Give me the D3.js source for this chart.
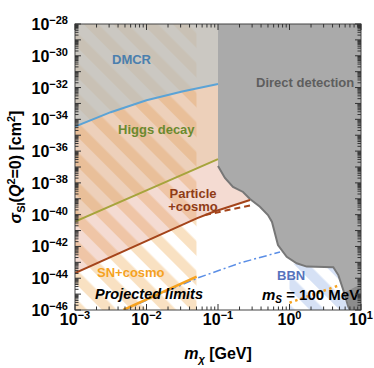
<!DOCTYPE html>
<html>
<head>
<meta charset="utf-8">
<script src="https://cdn.jsdelivr.net/npm/d3@7"></script>
<style>
  body { margin: 0; background: #fff; }
  text { font-family: "Liberation Sans", Arial, sans-serif; font-weight: bold; }
</style>
</head>
<body>
<div id="chart"></div>
<script>
var width = 374, height = 368;
var margin = {left: 75, top: 24, right: 13, bottom: 58};

// limits, [m_chi (GeV), sigma_SI (cm^2)]
var dmcr = [[1e-3, 3.47e-35], [3.16e-3, 2.82e-34], [1e-2, 1.58e-33], [3.16e-2, 5.62e-33], [1e-1, 1.66e-32]];
var higgs = [[1e-3, 3.63e-41], [1e-2, 3.39e-39], [1e-1, 3.16e-37]];
var particle = [[1e-3, 2.14e-44], [5.03e-2, 5.89e-41], [8.5e-2, 1.48e-40], [0.28, 8.32e-40]];
var particleDashed = [[6.58e-2, 9.55e-41], [0.28, 3.8e-40]];
var snCosmo = [[4.74e-3, 1e-46], [5.03e-2, 1.26e-44]];
var projected = [[5.0e-3, 1e-46], [1.55e-2, 1.02e-45], [5.25e-2, 1.05e-44], [0.203, 9.12e-44], [0.736, 4.47e-43]];
var bbnDotted = [[1.0, 2.88e-46], [5.08, 3.72e-45]];
var direct = [[0.1, 1e-28], [0.1, 1.15e-37], [0.125, 2.04e-38], [0.162, 5.5e-39], [0.224, 2.69e-39],
  [0.28, 9.77e-40], [0.386, 3.16e-40], [0.5, 9.55e-41], [0.569, 3.47e-41], [0.69, 1.23e-42],
  [0.914, 2.24e-43], [1.26, 8.7e-44], [1.74, 5.37e-44], [4.1, 4.9e-44], [4.82, 1.58e-44],
  [5.65, 1.82e-45], [6.64, 1.62e-46], [7.0, 1e-46], [10, 1e-46], [10, 1e-28]];
var directDark = [[6.07, 1.35e-45], [10, 4.37e-45], [10, 1e-46], [7.0, 1e-46]];
var snHatch = [[1e-3, 1e-46], [0.05, 1e-46], [0.05, 1e-28], [1e-3, 1e-28]];
var bbnHatch = [[1, 1e-46], [1, 8e-44], [10, 8e-44], [10, 1e-46]];

var xTickExp = [-3, -2, -1, 0, 1];
var yTickExp = [-46, -44, -42, -40, -38, -36, -34, -32, -30, -28];

var svg = d3.select("#chart").append("svg")
  .attr("width", width).attr("height", height);

var x = d3.scaleLog().domain([1e-3, 10]).range([margin.left, width - margin.right]);
var y = d3.scaleLog().domain([1e-46, 1e-28]).range([height - margin.bottom, margin.top]);

var defs = svg.append("defs");
defs.append("clipPath").attr("id", "clip").append("rect")
  .attr("x", x.range()[0]).attr("y", y.range()[1])
  .attr("width", x.range()[1] - x.range()[0]).attr("height", y.range()[0] - y.range()[1]);

function stripes(id, color) {
  var p = defs.append("pattern").attr("id", id)
    .attr("patternUnits", "userSpaceOnUse")
    .attr("width", 21).attr("height", 21)
    .attr("patternTransform", "rotate(-45)");
  p.append("rect").attr("width", 21).attr("height", 21).attr("fill", "#fff");
  p.append("rect").attr("width", 10.5).attr("height", 21).attr("fill", color);
}
stripes("hatchOrange", "#f9e1c2");
stripes("hatchBlue", "#d6e1f5");

var line = d3.line().x(d => x(d[0])).y(d => y(d[1]));
function above(data) {
  var last = data[data.length - 1];
  return data.concat([[last[0], 1e-28], [data[0][0], 1e-28]]);
}

var g = svg.append("g").attr("clip-path", "url(#clip)");

g.append("path").attr("d", line(snHatch) + "Z").attr("fill", "url(#hatchOrange)");
g.append("path").attr("d", line(bbnHatch) + "Z").attr("fill", "url(#hatchBlue)");
g.append("path").attr("d", line(above(particle)) + "Z").attr("fill", "rgba(215,125,95,0.28)");
g.append("path").attr("d", line(above(higgs)) + "Z").attr("fill", "rgba(215,175,115,0.25)");
g.append("path").attr("d", line(above(dmcr)) + "Z").attr("fill", "rgba(180,195,200,0.6)");

g.append("path").attr("d", line(direct) + "Z").attr("fill", "#aaaaaa");
g.append("path").attr("d", line(directDark) + "Z").attr("fill", "#8c8c8c");
g.append("path").attr("d", line(direct.slice(1, 18)))
  .attr("fill", "none").attr("stroke", "#777").attr("stroke-width", 2);

g.append("path").attr("d", line(dmcr)).attr("fill", "none").attr("stroke", "#5ba3d6").attr("stroke-width", 2);
g.append("path").attr("d", line(higgs)).attr("fill", "none").attr("stroke", "#a6a43c").attr("stroke-width", 2);
g.append("path").attr("d", line(particle)).attr("fill", "none").attr("stroke", "#a4441a").attr("stroke-width", 2);
g.append("path").attr("d", line(particleDashed)).attr("fill", "none").attr("stroke", "#a4441a")
  .attr("stroke-width", 2).attr("stroke-dasharray", "6,4");
g.append("path").attr("d", line(projected)).attr("fill", "none").attr("stroke", "#5a8ee6")
  .attr("stroke-width", 1.5).attr("stroke-dasharray", "8,3,2,3");
g.append("path").attr("d", line(snCosmo)).attr("fill", "none").attr("stroke", "#f6a21f").attr("stroke-width", 2.5);
g.append("path").attr("d", line(bbnDotted)).attr("fill", "none").attr("stroke", "#f6a21f")
  .attr("stroke-width", 2.5).attr("stroke-dasharray", "2.5,3.5");

// labels
function label(txt, px, py, color, size, anchor, italic) {
  return svg.append("text").attr("x", px).attr("y", py).attr("fill", color)
    .attr("font-size", size).attr("text-anchor", anchor || "start")
    .attr("font-style", italic ? "italic" : "normal").text(txt);
}
label("DMCR", 112, 64, "#4a7fae", 13);
label("Higgs decay", 118, 134, "#6b8a2f", 13);
label("Direct detection", 256, 87, "#5e5e5e", 13);
label("Particle", 193, 197.5, "#8f3b16", 13, "middle");
label("+cosmo", 193, 211, "#8f3b16", 13, "middle");
label("SN+cosmo", 97, 277, "#f5a21f", 13);
label("Projected limits", 95, 299, "#000", 14.5, "start", true);
label("BBN", 277, 280, "#5673bd", 13);

var ms = svg.append("text").attr("x", 262).attr("y", 300).attr("font-size", 15).attr("fill", "#000");
ms.append("tspan").attr("font-style", "italic").text("m");
ms.append("tspan").attr("font-style", "italic").attr("font-size", 10).attr("dy", 3).text("S");
ms.append("tspan").attr("dy", -3).text(" = 100 MeV");

// frame and ticks
var frame = svg.append("g");
frame.append("rect")
  .attr("x", x.range()[0]).attr("y", y.range()[1])
  .attr("width", x.range()[1] - x.range()[0]).attr("height", y.range()[0] - y.range()[1])
  .attr("fill", "none").attr("stroke", "#444").attr("stroke-width", 1);

var xTicks = [], yTicks = [];
d3.range(-3, 1).forEach(e => d3.range(1, 10).forEach(k => xTicks.push([k * Math.pow(10, e), k == 1])));
xTicks.push([10, true]);
d3.range(-46, -28).forEach(e => d3.range(1, 10).forEach(k => yTicks.push([k * Math.pow(10, e), k == 1])));
yTicks.push([1e-28, true]);

var x0 = x.range()[0], x1 = x.range()[1], y0 = y.range()[0], y1 = y.range()[1];
xTicks.forEach(function (t) {
  var len = t[1] ? 6 : 3.5, px = x(t[0]);
  frame.append("line").attr("x1", px).attr("x2", px).attr("y1", y0).attr("y2", y0 - len).attr("stroke", "#333");
  frame.append("line").attr("x1", px).attr("x2", px).attr("y1", y1).attr("y2", y1 + len).attr("stroke", "#333");
});
yTicks.forEach(function (t) {
  var len = t[1] ? 6 : 3.5, py = y(t[0]);
  frame.append("line").attr("y1", py).attr("y2", py).attr("x1", x0).attr("x2", x0 + len).attr("stroke", "#333");
  frame.append("line").attr("y1", py).attr("y2", py).attr("x1", x1).attr("x2", x1 - len).attr("stroke", "#333");
});

function powLabel(sel, e) {
  sel.append("tspan").text("10");
  sel.append("tspan").attr("font-size", 11).attr("dy", -6)
    .text(e < 0 ? "\u2212" + Math.abs(e) : String(e));
}
xTickExp.forEach(function (e) {
  var t = svg.append("text").attr("x", x(Math.pow(10, e))).attr("y", 325)
    .attr("font-size", 16).attr("text-anchor", "middle");
  powLabel(t, e);
});
yTickExp.forEach(function (e) {
  var t = svg.append("text").attr("x", 68).attr("y", y(Math.pow(10, e)) + 6)
    .attr("font-size", 16).attr("text-anchor", "end");
  powLabel(t, e);
});

// axis titles
var xt = svg.append("text").attr("x", (x0 + x1) / 2).attr("y", 359)
  .attr("font-size", 16).attr("text-anchor", "middle");
xt.append("tspan").attr("font-style", "italic").text("m");
xt.append("tspan").attr("font-style", "italic").attr("font-size", 11).attr("dy", 4).text("\u03c7");
xt.append("tspan").attr("dy", -4).text(" [GeV]");

var yt = svg.append("text").attr("transform", "translate(21," + ((y0 + y1) / 2) + ") rotate(-90)")
  .attr("font-size", 16).attr("text-anchor", "middle");
yt.append("tspan").attr("font-style", "italic").text("\u03c3");
yt.append("tspan").attr("font-size", 11).attr("dy", 4).text("SI");
yt.append("tspan").attr("dy", -4).text("(");
yt.append("tspan").attr("font-style", "italic").text("Q");
yt.append("tspan").attr("font-size", 11).attr("dy", -6).text("2");
yt.append("tspan").attr("dy", 6).text("=0) [cm");
yt.append("tspan").attr("font-size", 11).attr("dy", -6).text("2");
yt.append("tspan").attr("dy", 6).text("]");
</script>
</body>
</html>
